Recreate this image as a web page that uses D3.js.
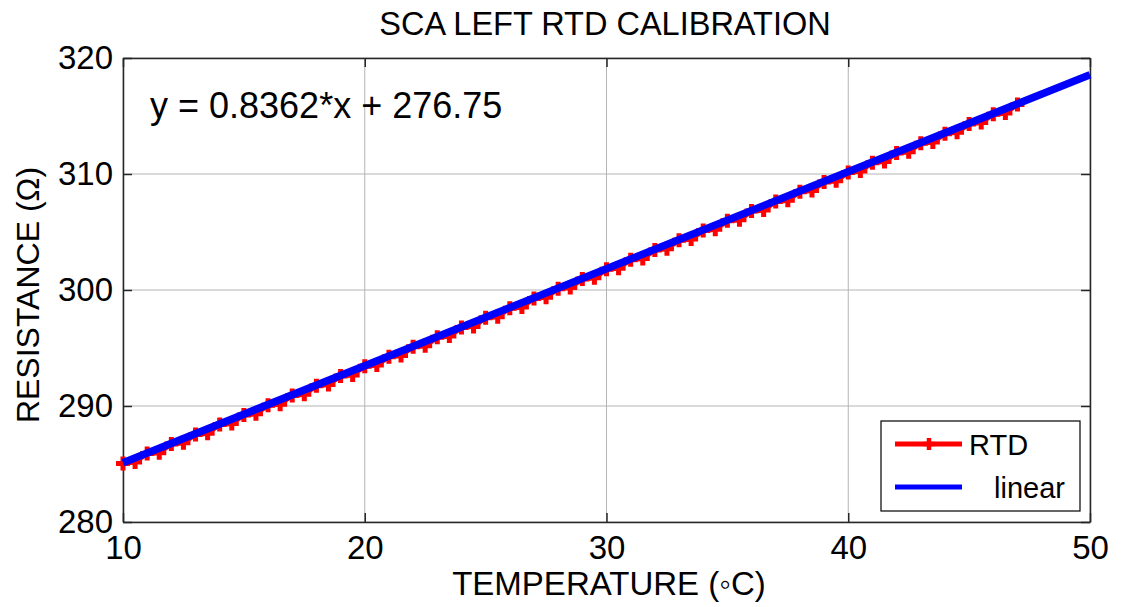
<!DOCTYPE html>
<html><head><meta charset="utf-8">
<script src="https://cdn.jsdelivr.net/npm/d3@7"></script>
<style>body{margin:0;background:#fff}svg{display:block}</style>
</head><body>
<svg id="c" width="1121" height="607"></svg>
<script>
const title = "SCA LEFT RTD CALIBRATION";
const xLabel = "TEMPERATURE (\u25E6C)";
const yLabel = "RESISTANCE (\u03A9)";
const equation = "y = 0.8362*x + 276.75";
const xTicks = [10, 20, 30, 40, 50];
const yTicks = [280, 290, 300, 310, 320];
const rtdTemp = [10.0,10.5,11.0,11.5,12.0,12.5,13.0,13.5,14.0,14.5,15.0,15.5,16.0,16.5,17.0,17.5,18.0,18.5,19.0,19.5,20.0,20.5,21.0,21.5,22.0,22.5,23.0,23.5,24.0,24.5,25.0,25.5,26.0,26.5,27.0,27.5,28.0,28.5,29.0,29.5,30.0,30.5,31.0,31.5,32.0,32.5,33.0,33.5,34.0,34.5,35.0,35.5,36.0,36.5,37.0,37.5,38.0,38.5,39.0,39.5,40.0,40.5,41.0,41.5,42.0,42.5,43.0,43.5,44.0,44.5,45.0,45.5,46.0,46.5,47.0];
const rtdRes = [285.05,285.18,285.90,285.98,286.72,286.83,287.55,287.65,288.40,288.49,289.22,289.33,290.07,290.16,290.90,291.01,291.74,291.85,292.58,292.68,293.42,293.53,294.25,294.35,295.10,295.19,295.92,296.03,296.76,296.86,297.60,297.70,298.43,298.53,299.27,299.38,300.10,300.21,300.95,301.05,301.78,301.88,302.61,302.71,303.45,303.56,304.28,304.39,305.12,305.23,305.96,306.06,306.80,306.90,307.63,307.73,308.47,308.57,309.30,309.41,310.14,310.25,310.98,311.08,311.82,311.92,312.65,312.75,313.48,313.59,314.32,314.43,315.16,315.26,316.00];
const fitTemp = [10, 50];
const fitRes = [285.112, 318.56];

const svg = d3.select("#c");
const L = 123, R = 1090, T = 58, B = 522;
const x = d3.scaleLinear().domain([10, 50]).range([L, R]);
const y = d3.scaleLinear().domain([280, 320]).range([B, T]);
const font = "'Liberation Sans', Arial, sans-serif";

// grid
const g = svg.append("g");
g.selectAll(".gx").data(xTicks).join("line")
  .attr("x1", d => x(d)).attr("x2", d => x(d)).attr("y1", T).attr("y2", B)
  .attr("stroke", "#b4b4b4").attr("stroke-width", 1);
g.selectAll(".gy").data(yTicks).join("line")
  .attr("x1", L).attr("x2", R).attr("y1", d => y(d)).attr("y2", d => y(d))
  .attr("stroke", "#b4b4b4").attr("stroke-width", 1);

// axes
const xAxB = d3.axisBottom(x).tickValues(xTicks).tickSizeInner(-9).tickSizeOuter(0).tickPadding(14);
const xAxT = d3.axisTop(x).tickValues(xTicks).tickSizeInner(-9).tickSizeOuter(0).tickFormat("");
const yAxL = d3.axisLeft(y).tickValues(yTicks).tickSizeInner(-9).tickSizeOuter(0).tickPadding(10);
const yAxR = d3.axisRight(y).tickValues(yTicks).tickSizeInner(-9).tickSizeOuter(0).tickFormat("");
function style(sel){
  sel.selectAll("path").attr("stroke","#262626").attr("stroke-width",1.5);
  sel.selectAll("line").attr("stroke","#262626").attr("stroke-width",1.5);
  sel.selectAll("text").attr("font-family", font).attr("font-size", 33).attr("fill","#000");
}
svg.append("g").attr("transform",`translate(0,${B})`).call(xAxB).call(style);
svg.append("g").attr("transform",`translate(0,${T})`).call(xAxT).call(style);
svg.append("g").attr("transform",`translate(${L},0)`).call(yAxL).call(style);
svg.append("g").attr("transform",`translate(${R},0)`).call(yAxR).call(style);

// RTD series
const rtd = rtdTemp.map((t,i)=>[t, rtdRes[i]]);
const line = d3.line().x(d=>x(d[0])).y(d=>y(d[1]));
svg.append("path").datum(rtd).attr("d", line).attr("fill","none")
  .attr("stroke","#ff0000").attr("stroke-width",5);
svg.append("g").selectAll("path").data(rtd).join("path")
  .attr("d", d => { const px=x(d[0]), py=y(d[1]), s=7; return `M${px-s},${py}H${px+s}M${px},${py-s}V${py+s}`; })
  .attr("stroke","#ff0000").attr("stroke-width",5).attr("fill","none");

// linear fit
const fit = fitTemp.map((t,i)=>[t, fitRes[i]]);
svg.append("path").datum(fit).attr("d", line).attr("fill","none")
  .attr("stroke","#0000ff").attr("stroke-width",7.5);

// equation
svg.append("text").attr("x",150).attr("y",118).attr("font-family",font).attr("font-size",36).text(equation);

// title
svg.append("text").attr("x",605).attr("y",35).attr("text-anchor","middle")
  .attr("font-family",font).attr("font-size",32.5).text(title);
// x label
svg.append("text").attr("x",609).attr("y",595).attr("text-anchor","middle")
  .attr("font-family",font).attr("font-size",33).text(xLabel);
// y label
svg.append("text").attr("transform","translate(39,295) rotate(-90)").attr("text-anchor","middle")
  .attr("font-family",font).attr("font-size",32).text(yLabel);

// legend
const lg = svg.append("g");
lg.append("rect").attr("x",881).attr("y",421).attr("width",199).attr("height",90)
  .attr("fill","#fff").attr("stroke","#000").attr("stroke-width",1.2);
lg.append("line").attr("x1",895).attr("x2",962).attr("y1",444).attr("y2",444).attr("stroke","#ff0000").attr("stroke-width",5);
lg.append("path").attr("d","M923,444H935M929,438V450").attr("stroke","#ff0000").attr("stroke-width",4.5);
lg.append("text").attr("x",969).attr("y",455).attr("font-family",font).attr("font-size",29).text("RTD");
lg.append("line").attr("x1",895).attr("x2",962).attr("y1",487).attr("y2",487).attr("stroke","#0000ff").attr("stroke-width",5);
lg.append("text").attr("x",994).attr("y",498).attr("font-family",font).attr("font-size",29).text("linear");
</script>
</body></html>
